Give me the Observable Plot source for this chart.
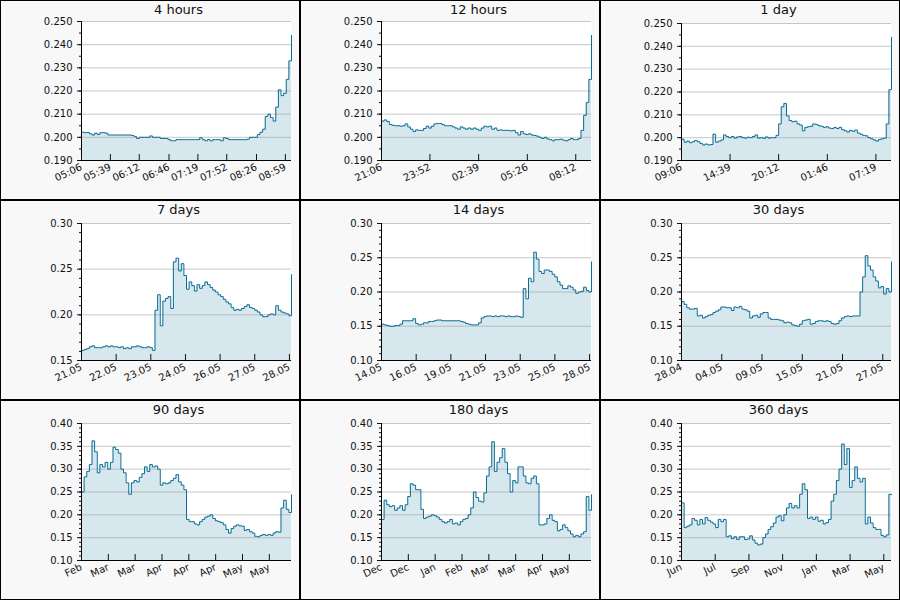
<!DOCTYPE html>
<html><head><meta charset="utf-8">
<script src="https://cdn.jsdelivr.net/npm/d3@7"></script>
<script src="https://cdn.jsdelivr.net/npm/@observablehq/plot@0.6"></script>
<style>
html,body{margin:0;padding:0;background:#fff;}
#grid{position:relative;width:900px;height:600px;font-family:"DejaVu Sans",sans-serif;}
.panel{position:absolute;width:300px;height:200px;box-sizing:border-box;border:1px solid #000;background:#f8f8f8;}
.panel svg{position:absolute;left:0;top:0;overflow:visible;}
.title{position:absolute;left:0;width:355px;text-align:center;top:1px;font-size:13px;line-height:16px;color:#111;}
</style></head><body><div id="grid"></div><script>
// ---- data ----
const titles = ["4 hours","12 hours","1 day","7 days","14 days","30 days","90 days","180 days","360 days"];

const h4Labels = ["05:06","05:39","06:12","06:46","07:19","07:52","08:26","08:59"];
const h12Labels = ["21:06","23:52","02:39","05:26","08:12"];
const d1Labels = ["09:06","14:39","20:12","01:46","07:19"];
const d7Labels = ["21.05","22.05","23.05","24.05","26.05","27.05","28.05"];
const d7Ticks = [0,1.1667,2.3333,3.5,4.6667,5.8333,7];
const d14Labels = ["14.05","16.05","19.05","21.05","23.05","25.05","28.05"];
const d14Ticks = [0,2.3333,4.6667,7,9.3333,11.6667,14];
const d30Labels = ["28.04","04.05","09.05","15.05","21.05","27.05"];
const d30Ticks = [0,6,12,18,24,30];
const d90Labels = ["Feb","Mar","Mar","Apr","Apr","Apr","May","May"];
const d90Ticks = [0,11.5,23,34.5,46,57.5,69,80.5];
const d180Labels = ["Dec","Dec","Jan","Feb","Mar","Mar","Apr","May"];
const d180Ticks = [0,23,46,69,92,115,138,161];
const d360Labels = ["Jun","Jul","Sep","Nov","Jan","Mar","May"];
const d360Ticks = [0,57.8,115.6,173.4,231.2,289,346.8];

const yTicksHours = [0.19,0.20,0.21,0.22,0.23,0.24,0.25];
const yTicks7 = [0.15,0.20,0.25,0.30];
const yTicks14 = [0.10,0.15,0.20,0.25,0.30];
const yTicksLong = [0.10,0.15,0.20,0.25,0.30,0.35,0.40];

const h4 = [0.2022,0.2020,0.2021,0.2015,0.2010,0.2018,0.2012,0.2020,0.2020,0.2018,
0.2010,0.2010,0.2010,0.2010,0.2010,0.2010,0.2010,0.2010,0.2010,0.2008,
0.2003,0.1995,0.2000,0.2000,0.2000,0.2000,0.2006,0.2000,0.2000,0.2000,
0.1995,0.1995,0.1995,0.1990,0.1985,0.1985,0.1990,0.1990,0.1990,0.1990,
0.1990,0.1990,0.1990,0.1990,0.1990,0.1998,0.1990,0.1985,0.1990,0.1985,
0.1990,0.1990,0.1990,0.1985,0.1998,0.1995,0.1990,0.1990,0.1990,0.1990,
0.1990,0.1990,0.1990,0.1992,0.2000,0.2000,0.2000,0.2012,0.2022,0.2035,
0.2090,0.2100,0.2085,0.2070,0.2130,0.2205,0.2180,0.2190,0.2250,0.2330,
0.2440];
const h12 = [0.2070,0.2075,0.2068,0.2055,0.2052,0.2050,0.2050,0.2048,0.2050,0.2058,
0.2045,0.2035,0.2025,0.2032,0.2030,0.2030,0.2038,0.2048,0.2040,0.2048,
0.2058,0.2060,0.2060,0.2055,0.2050,0.2050,0.2050,0.2045,0.2040,0.2035,
0.2045,0.2040,0.2035,0.2040,0.2035,0.2040,0.2035,0.2030,0.2040,0.2048,
0.2045,0.2048,0.2035,0.2040,0.2030,0.2032,0.2030,0.2030,0.2030,0.2028,
0.2030,0.2020,0.2010,0.2025,0.2015,0.2012,0.2015,0.2010,0.2008,0.2005,
0.2000,0.1995,0.2000,0.1993,0.1990,0.1985,0.1990,0.1990,0.1992,0.1988,
0.1985,0.1990,0.1995,0.1990,0.1990,0.1995,0.2030,0.2095,0.2150,0.2250,
0.2440];
const d1 = [0.1993,0.1980,0.1985,0.1978,0.1982,0.1988,0.1982,0.1975,0.1968,0.1972,
0.1968,0.1970,0.2015,0.1980,0.1985,0.1990,0.2012,0.2005,0.2000,0.2005,
0.1998,0.2003,0.2005,0.2000,0.1998,0.2002,0.2000,0.2005,0.2012,0.1998,
0.2000,0.1997,0.2003,0.1998,0.2000,0.2000,0.2010,0.2060,0.2135,0.2150,
0.2095,0.2075,0.2070,0.2072,0.2060,0.2055,0.2030,0.2045,0.2048,0.2050,
0.2060,0.2058,0.2052,0.2050,0.2045,0.2048,0.2042,0.2040,0.2045,0.2040,
0.2045,0.2035,0.2030,0.2025,0.2032,0.2028,0.2033,0.2020,0.2015,0.2010,
0.2008,0.2000,0.1995,0.1990,0.1985,0.1992,0.1995,0.1998,0.2060,0.2210,
0.2440];
const d7 = [0.161,0.162,0.163,0.165,0.166,0.164,0.164,0.164,0.165,0.166,
0.165,0.166,0.165,0.165,0.164,0.165,0.163,0.164,0.163,0.165,
0.165,0.166,0.165,0.164,0.164,0.165,0.164,0.161,0.205,0.222,
0.188,0.215,0.218,0.220,0.207,0.258,0.262,0.248,0.256,0.243,
0.228,0.236,0.232,0.226,0.233,0.229,0.232,0.236,0.233,0.230,
0.227,0.225,0.222,0.220,0.217,0.214,0.212,0.208,0.205,0.206,
0.205,0.207,0.209,0.211,0.208,0.207,0.205,0.203,0.200,0.198,
0.198,0.200,0.201,0.200,0.210,0.205,0.203,0.202,0.201,0.199,
0.244];
const d14 = [0.153,0.152,0.151,0.150,0.150,0.151,0.151,0.153,0.158,0.158,
0.158,0.158,0.161,0.154,0.152,0.153,0.155,0.155,0.157,0.157,
0.158,0.159,0.159,0.158,0.158,0.158,0.158,0.158,0.158,0.158,
0.157,0.156,0.154,0.153,0.152,0.152,0.152,0.155,0.162,0.164,
0.165,0.165,0.164,0.165,0.164,0.165,0.165,0.164,0.165,0.164,
0.164,0.165,0.164,0.163,0.205,0.190,0.220,0.215,0.258,0.248,
0.230,0.227,0.232,0.232,0.230,0.226,0.222,0.215,0.210,0.205,
0.205,0.209,0.207,0.203,0.198,0.200,0.201,0.207,0.202,0.200,
0.244];
const d30 = [0.186,0.182,0.177,0.175,0.175,0.176,0.165,0.166,0.162,0.164,
0.166,0.167,0.170,0.172,0.174,0.178,0.178,0.177,0.177,0.173,
0.178,0.177,0.179,0.175,0.174,0.172,0.162,0.165,0.166,0.163,
0.168,0.170,0.170,0.162,0.160,0.160,0.160,0.159,0.158,0.155,
0.156,0.155,0.152,0.151,0.150,0.153,0.158,0.159,0.160,0.153,
0.154,0.157,0.158,0.158,0.157,0.158,0.157,0.154,0.153,0.154,
0.158,0.162,0.164,0.165,0.164,0.165,0.165,0.165,0.200,0.222,
0.253,0.238,0.232,0.222,0.216,0.206,0.208,0.197,0.205,0.200,
0.244];
const d90 = [0.250,0.283,0.295,0.310,0.362,0.338,0.292,0.310,0.305,0.315,
0.300,0.315,0.348,0.343,0.335,0.300,0.292,0.270,0.245,0.270,
0.275,0.272,0.282,0.290,0.305,0.295,0.310,0.305,0.307,0.300,
0.265,0.270,0.268,0.270,0.275,0.280,0.288,0.272,0.265,0.255,
0.190,0.185,0.185,0.180,0.178,0.185,0.190,0.195,0.197,0.200,
0.192,0.187,0.185,0.183,0.178,0.168,0.160,0.170,0.175,0.178,
0.176,0.175,0.166,0.168,0.163,0.160,0.153,0.152,0.155,0.157,
0.155,0.157,0.155,0.160,0.163,0.162,0.215,0.232,0.212,0.205,
0.244];
const d180 = [0.190,0.232,0.222,0.218,0.220,0.210,0.215,0.220,0.210,0.222,
0.240,0.268,0.265,0.255,0.255,0.212,0.192,0.195,0.197,0.200,
0.198,0.195,0.190,0.185,0.182,0.185,0.190,0.180,0.182,0.178,
0.185,0.190,0.192,0.200,0.215,0.250,0.238,0.230,0.228,0.248,
0.285,0.305,0.360,0.295,0.315,0.325,0.345,0.315,0.290,0.250,
0.275,0.270,0.305,0.305,0.285,0.270,0.268,0.280,0.285,0.268,
0.178,0.178,0.180,0.192,0.200,0.188,0.185,0.165,0.168,0.178,
0.172,0.165,0.158,0.152,0.155,0.152,0.158,0.163,0.240,0.210,
0.244];
const d360 = [0.226,0.172,0.175,0.178,0.192,0.188,0.178,0.190,0.180,0.194,
0.188,0.184,0.180,0.172,0.190,0.185,0.190,0.152,0.154,0.148,
0.152,0.146,0.152,0.152,0.146,0.147,0.154,0.145,0.138,0.134,
0.136,0.150,0.158,0.168,0.174,0.182,0.195,0.198,0.187,0.200,
0.215,0.225,0.215,0.220,0.215,0.245,0.268,0.255,0.192,0.195,
0.190,0.195,0.186,0.188,0.180,0.183,0.190,0.230,0.245,0.275,
0.300,0.355,0.310,0.345,0.260,0.275,0.305,0.280,0.272,0.280,
0.180,0.195,0.182,0.172,0.168,0.168,0.155,0.152,0.156,0.245,
0.244];

// ---- helpers ----
function clockTicks(labels) {
  const mins = labels.map(s => { const [h, m] = s.split(":").map(Number); return h * 60 + m; });
  return mins.map(m => (m - mins[0] + 1440) % 1440);
}

const panels = [
  {values: h4,  span: 240,   ticks: clockTicks(h4Labels),  labels: h4Labels,  y: [0.19, 0.25], yTicks: yTicksHours, minor: 0.005, fmt: ".3f", top: 21},
  {values: h12, span: 720,   ticks: clockTicks(h12Labels), labels: h12Labels, y: [0.19, 0.25], yTicks: yTicksHours, minor: 0.005, fmt: ".3f", top: 21},
  {values: d1,  span: 1440,  ticks: clockTicks(d1Labels),  labels: d1Labels,  y: [0.19, 0.25], yTicks: yTicksHours, minor: 0.005, fmt: ".3f", top: 23},
  {values: d7,  span: 7.07,  ticks: d7Ticks,   labels: d7Labels,   y: [0.15, 0.30], yTicks: yTicks7,   minor: 0.01, fmt: ".2f", top: 23},
  {values: d14, span: 14.13, ticks: d14Ticks,  labels: d14Labels,  y: [0.10, 0.30], yTicks: yTicks14,  minor: 0.01, fmt: ".2f", top: 23},
  {values: d30, span: 31.3,  ticks: d30Ticks,  labels: d30Labels,  y: [0.10, 0.30], yTicks: yTicks14,  minor: 0.01, fmt: ".2f", top: 23},
  {values: d90, span: 90,    ticks: d90Ticks,  labels: d90Labels,  y: [0.10, 0.40], yTicks: yTicksLong, minor: 0.01, fmt: ".2f", top: 23},
  {values: d180, span: 180,  ticks: d180Ticks, labels: d180Labels, y: [0.10, 0.40], yTicks: yTicksLong, minor: 0.01, fmt: ".2f", top: 23},
  {values: d360, span: 360,  ticks: d360Ticks, labels: d360Labels, y: [0.10, 0.40], yTicks: yTicksLong, minor: 0.01, fmt: ".2f", top: 23}
];

const grid = document.getElementById("grid");
panels.forEach((p, idx) => {
  const col = idx % 3, row = Math.floor(idx / 3);
  const div = document.createElement("div");
  div.className = "panel";
  div.style.left = (col * 300) + "px";
  div.style.top = (row * 200) + "px";
  const n = p.values.length;
  const data = p.values.map((v, i) => ({x: i / (n - 1) * p.span, v}));
  const [y0, y1] = p.y;
  const minor = d3.range(Math.round((y1 - y0) / p.minor) + 1).map(k => +(y0 + k * p.minor).toFixed(4));
  const labelOf = new Map(p.ticks.map((t, i) => [t, p.labels[i]]));
  const fmt = d3.format(p.fmt);
  const svg = Plot.plot({
    width: 298, height: 198,
    marginLeft: 80, marginRight: 8, marginTop: p.top - 1, marginBottom: 39,
    style: {background: "transparent", fontFamily: "DejaVu Sans", fontSize: "10px", color: "#111"},
    x: {domain: [0, p.span]},
    y: {domain: p.y},
    marks: [
      Plot.frame({fill: "white", stroke: "none"}),
      Plot.areaY(data, {x: "x", y1: y0, y2: "v", fill: "#d7e7ee", curve: "step-after"}),
      Plot.gridY(p.yTicks, {stroke: "#9a9a9a", strokeOpacity: 0.55}),
      Plot.lineY(data, {x: "x", y: "v", stroke: "#0b6e96", strokeWidth: 1, curve: "step-after"}),
      Plot.ruleX([0], {stroke: "#000"}),
      Plot.ruleY([y0], {stroke: "#000"}),
      Plot.axisY(minor, {tickSize: 2, fill: "none", label: null}),
      Plot.axisY(p.yTicks, {tickSize: 4, tickPadding: 5, tickFormat: fmt, label: null}),
      Plot.axisX(p.ticks, {tickSize: -6, fill: "none", label: null}),
      Plot.axisX(p.ticks, {tickSize: 0, tickPadding: 6, tickRotate: -25, tickFormat: d => labelOf.get(d), label: null})
    ]
  });
  div.appendChild(svg);
  const t = document.createElement("div");
  t.className = "title";
  t.textContent = titles[idx];
  div.appendChild(t);
  grid.appendChild(div);
});
</script></body></html>
